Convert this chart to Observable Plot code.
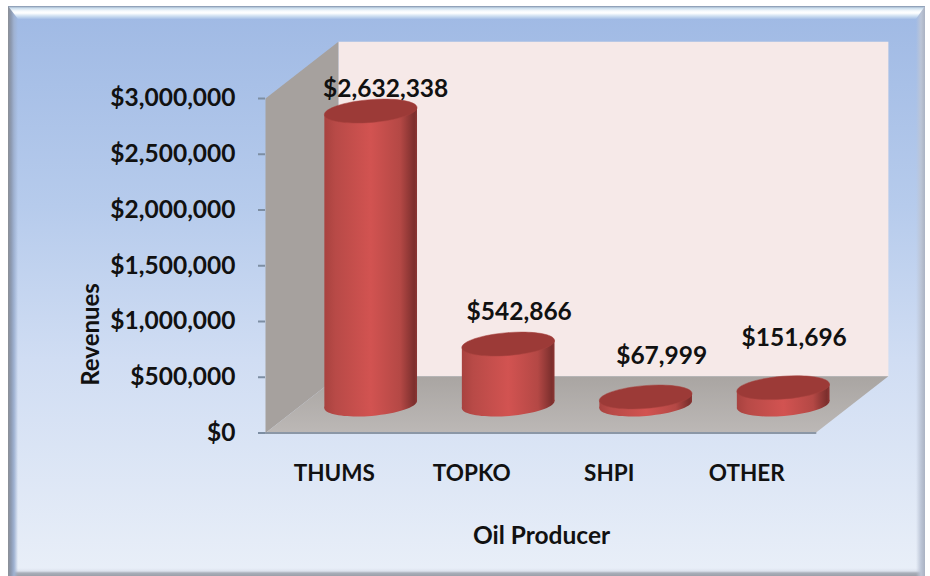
<!DOCTYPE html>
<html>
<head>
<meta charset="utf-8">
<script src="https://cdn.jsdelivr.net/npm/d3@7"></script>
<script src="https://cdn.jsdelivr.net/npm/@observablehq/plot@0.6"></script>
<style>
html,body{margin:0;padding:0;background:#fff;width:930px;height:576px;overflow:hidden}
#frame{position:absolute;left:8px;top:6px;width:917px;height:570px;
  background:
    linear-gradient(to right,#8b8f96 0,#8c99b0 3px,#9fb2d2 6px,rgba(255,255,255,0) 10px),
    linear-gradient(to left,#aab2c2 0,#bcc5d6 4px,rgba(255,255,255,0) 9px),
    linear-gradient(to top,#9a9fa9 0,#a9afba 3px,#dde3ee 5px,rgba(255,255,255,0) 8px),
    linear-gradient(to bottom,#9fb9e4 0%,#b6cbec 35%,#d0ddf3 62%,#e9eff8 100%);}
#topbevel{position:absolute;left:8px;top:6px;width:917px;height:13px;
  clip-path:polygon(0 0,100% 0,calc(100% - 9px) 100%,10px 100%);
  background:linear-gradient(to bottom,#7f8fa9 0,#c9dcec 2px,#f6fafd 5px,#ffffff 7px,#cfe0f2 10px,#a6bfe6 13px)}
#chart{position:absolute;left:0;top:0}
svg{background:transparent!important;display:block}
</style>
</head>
<body>
<div id="frame"></div>
<div id="topbevel"></div>
<div id="chart"></div>
<script>
const categories = ["THUMS", "TOPKO", "SHPI", "OTHER"];
const revenues = [2632338, 542866, 67999, 151696];
const yTicks = [0, 500000, 1000000, 1500000, 2000000, 2500000, 3000000];

const font = "Lato, 'Open Sans', sans-serif";
const money = d => "$" + d3.format(",")(d);

// 3-D projection expressed in data units: one unit of depth moves a point
// right by about half a category and up by about $510,000.
const depthX = 0.53, depthY = 510000;
const P = (i, v, d = 0) => ({x: i + d * depthX, y: v + d * depthY});
const poly = pts => pts.map(([i, v, d]) => P(i, v, d));

const maxY = 3000000, nCat = categories.length;
const leftWall = poly([[0,0,0],[0,maxY,0],[0,maxY,1],[0,0,1]]);
const backWall = poly([[0,0,1],[0,maxY,1],[nCat,maxY,1],[nCat,0,1]]);
const floor    = poly([[0,0,0],[nCat,0,0],[nCat,0,1],[0,0,1]]);
const baseLine = poly([[0,0,0],[nCat,0,0]]);

// Cylinder half width (category units) and the tilt of its ellipses (dollars).
const halfW = 0.337, tilt = 33000;
const rx = 46.5;
const ellipse = {
  draw(ctx, size) {
    const a = Math.sqrt(size / Math.PI), b = a * 0.245, k = 0.5523;
    ctx.moveTo(-a, 0);
    ctx.bezierCurveTo(-a, -b * k, -a * k, -b, 0, -b);
    ctx.bezierCurveTo(a * k, -b, a, -b * k, a, 0);
    ctx.bezierCurveTo(a, b * k, a * k, b, 0, b);
    ctx.bezierCurveTo(-a * k, b, -a, b * k, -a, 0);
    ctx.closePath();
  }
};

const rows = categories.map((c, i) => ({c, i, v: revenues[i], ...P(i + 0.5, revenues[i], 0.5), by: P(i + 0.5, 0, 0.5).y}));
const bodies = rows.flatMap(r => [
  {c: r.c, x: r.x - halfW, y: r.by - tilt},
  {c: r.c, x: r.x - halfW, y: r.y - tilt},
  {c: r.c, x: r.x + halfW, y: r.y + tilt},
  {c: r.c, x: r.x + halfW, y: r.by + tilt}
]);

const defs = () => {
  const s = d3.create("svg:defs");
  s.html(`
    <linearGradient id="cyl" x1="0" x2="1" y1="0" y2="0">
      <stop offset="0" stop-color="#a8423f"/>
      <stop offset="0.12" stop-color="#b84a47"/>
      <stop offset="0.5" stop-color="#d25351"/>
      <stop offset="0.82" stop-color="#b44845"/>
      <stop offset="0.97" stop-color="#7c2f2d"/>
      <stop offset="1" stop-color="#8c3533"/>
    </linearGradient>
    <linearGradient id="floorG" x1="0" x2="0" y1="0" y2="1">
      <stop offset="0" stop-color="#a9a5a2"/>
      <stop offset="1" stop-color="#bcb8b6"/>
    </linearGradient>`);
  return s.node();
};

const label = (i, dx, dy) => Plot.text([rows[i]], {
  x: "x", y: "y", text: d => money(d.v), dx, dy,
  fontSize: 24.5, fontFamily: font, fontWeight: 700, fill: "#111"
});

const plot = Plot.plot({
  width: 930, height: 576,
  marginLeft: 265, marginRight: 115, marginTop: 98, marginBottom: 143.5,
  style: {background: "transparent", fontFamily: font},
  x: {domain: [0, nCat], axis: null},
  y: {domain: [0, maxY], axis: null},
  marks: [
    defs,
    Plot.line(backWall, {x: "x", y: "y", fill: "#f6e9e8", stroke: "none", curve: "linear-closed"}),
    Plot.line(leftWall, {x: "x", y: "y", fill: "#a6a19e", stroke: "none", curve: "linear-closed"}),
    Plot.line(floor,    {x: "x", y: "y", fill: "url(#floorG)", stroke: "none", curve: "linear-closed"}),
    Plot.line(baseLine, {x: "x", y: "y", stroke: "#8b97a6", strokeWidth: 2}),
    Plot.axisY({ticks: yTicks, tickFormat: money, tickSize: 7, tickPadding: 23,
      fontSize: 24.5, fontWeight: 700, fontFamily: font, fill: "#111", stroke: "#7d8ea3",
      strokeWidth: 2, label: null}),
    Plot.axisX({ticks: categories.map((c, i) => i + 0.5), tickFormat: t => categories[t - 0.5],
      tickSize: 0, tickPadding: 32, fontSize: 22.5, fontWeight: 700, fontFamily: font, fill: "#111", label: null}),
    // bottom caps, bodies, top caps of the cylinders
    Plot.dot(rows, {x: "x", y: "by", symbol: ellipse, r: rx, rotate: -4.6, fill: "url(#cyl)", stroke: "none"}),
    Plot.line(bodies, {x: "x", y: "y", z: "c", fill: "url(#cyl)", stroke: "none", curve: "linear-closed"}),
    Plot.dot(rows, {x: "x", y: "y", symbol: ellipse, r: rx, rotate: -4.6, fill: "#9c3a37", stroke: "#a8423f", strokeWidth: 0.5}),
    label(0, 15, -22),
    label(1, 11, -32),
    label(2, 16, -41),
    label(3, 11, -49),
    Plot.text(["Oil Producer"], {x: [2], y: [0], dx: 1, dy: 103,
      text: d => d, fontSize: 24.5, fontWeight: 700, fontFamily: font, fill: "#111"}),
    Plot.text(["Revenues"], {x: [0], y: [875000], dx: -174, dy: -1, rotate: -90,
      text: d => d, fontSize: 24, fontWeight: 700, fontFamily: font, fill: "#111"})
  ]
});
document.getElementById("chart").appendChild(plot);
</script>
</body>
</html>
